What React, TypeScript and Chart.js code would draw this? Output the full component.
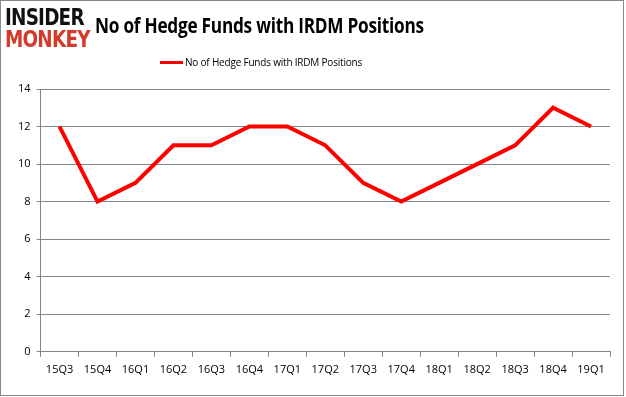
import React, { useEffect, useRef } from "react";
import { Chart, registerables } from "chart.js";

Chart.register(...registerables);

const categories = ["15Q3","15Q4","16Q1","16Q2","16Q3","16Q4","17Q1","17Q2","17Q3","17Q4","18Q1","18Q2","18Q3","18Q4","19Q1"];
const hedgeFunds = [12, 8, 9, 11, 11, 12, 12, 11, 9, 8, 9, 10, 11, 13, 12];
const seriesLabel = "No of Hedge Funds with IRDM Positions";
const titleText = "No of Hedge Funds with IRDM Positions";

export default function App() {
  const ref = useRef<HTMLCanvasElement | null>(null);
  useEffect(() => {
    if (!ref.current) return;
    const chart = new Chart(ref.current, {
      type: "line",
      data: {
        labels: categories,
        datasets: [
          {
            label: seriesLabel,
            data: hedgeFunds,
            borderColor: "#ff0000",
            backgroundColor: "#ff0000",
            borderWidth: 4,
            pointRadius: 0,
            tension: 0,
          },
        ],
      },
      options: {
        animation: false,
        responsive: false,
        layout: { padding: { left: 12, right: 16, top: 89, bottom: 15 } },
        plugins: { legend: { display: false }, title: { display: false }, tooltip: { enabled: false } },
        scales: {
          x: {
            offset: true,
            grid: { offset: true, drawOnChartArea: false, drawTicks: true, tickLength: 5, color: "#868686" },
            border: { color: "#868686" },
            ticks: { color: "#000", font: { family: "Open Sans", size: 11 }, padding: 6, maxRotation: 0 },
          },
          y: {
            min: 0,
            max: 14,
            ticks: { stepSize: 2, color: "#000", font: { family: "Open Sans", size: 11 }, padding: 6 },
            grid: { color: "#868686", tickLength: 4 },
            border: { color: "#868686" },
          },
        },
      },
    });
    return () => chart.destroy();
  }, []);
  return (
    <div style={{ position: "absolute", left: 0, top: 0, width: 626, height: 397, background: "#fff", overflow: "hidden" }}>
      <canvas ref={ref} width={626} height={397} style={{ position: "absolute", left: 0, top: 0 }} />
      <div style={{ position: "absolute", left: 0, top: 0, width: 622, height: 394, border: "1px solid #888", boxSizing: "content-box", pointerEvents: "none" }} />
      <div style={{ position: "absolute", left: 5, top: 5, fontFamily: "DejaVu Sans", fontWeight: 900, fontSize: 23, lineHeight: "24px", letterSpacing: -1, color: "#111", transform: "scaleX(0.8)", transformOrigin: "left top" }}>INSIDER</div>
      <div style={{ position: "absolute", left: 5, top: 27, fontFamily: "DejaVu Sans", fontWeight: 900, fontSize: 23, lineHeight: "24px", letterSpacing: -1, color: "#d43a2a", transform: "scaleX(0.8)", transformOrigin: "left top" }}>MONKEY</div>
      <div style={{ position: "absolute", left: 95, top: 10, fontFamily: "Open Sans", fontWeight: 700, fontSize: 21, lineHeight: "30px", color: "#000", whiteSpace: "nowrap", letterSpacing: -0.3, transform: "scaleX(0.82)", transformOrigin: "left top" }}>{titleText}</div>
      <div style={{ position: "absolute", left: 160, top: 54, display: "flex", alignItems: "center", fontFamily: "Open Sans", fontSize: 10, lineHeight: "16px", letterSpacing: -0.2, color: "#000", whiteSpace: "nowrap" }}>
        <span style={{ display: "inline-block", width: 23, height: 3, background: "#ff0000", marginRight: 2 }} />
        {seriesLabel}
      </div>
    </div>
  );
}
